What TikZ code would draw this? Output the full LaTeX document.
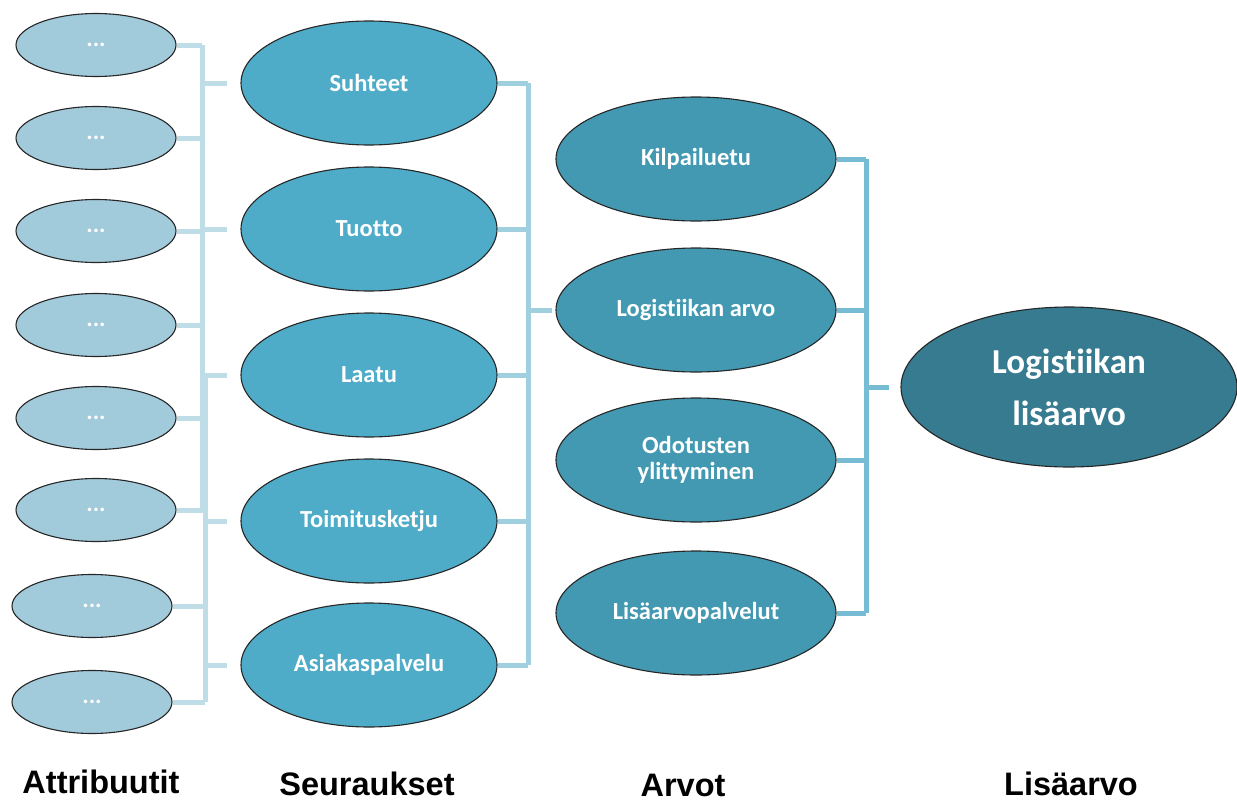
\documentclass[tikz,border=0pt]{standalone}
\usepackage{fontspec}
\setmainfont{Carlito}[Ligatures=NoCommon]
\newfontfamily\arialfont{Liberation Sans}
\usetikzlibrary{shapes.geometric}
\definecolor{attrfill}{HTML}{A1CADB}
\definecolor{consfill}{HTML}{4FACC8}
\definecolor{valfill}{HTML}{4499B2}
\definecolor{finfill}{HTML}{367B8F}
\definecolor{linea}{HTML}{BFDDE7}
\definecolor{lineb}{HTML}{A0CFE0}
\definecolor{linec}{HTML}{76BCD4}
\tikzset{
  ell/.style={ellipse, draw=black!85, line width=1.1pt, inner sep=0pt, text=white, font=\bfseries, align=center},
  attr/.style={ell, fill=attrfill, minimum width=160pt, minimum height=63pt, font=\bfseries\fontsize{24}{28}\selectfont},
  cons/.style={ell, fill=consfill, minimum width=256pt, minimum height=124pt, font=\bfseries\fontsize{24.5}{28}\selectfont},
  val/.style={ell, fill=valfill, minimum width=280pt, minimum height=124pt, font=\bfseries\fontsize{24.5}{26}\selectfont},
  fin/.style={ell, fill=finfill, minimum width=336pt, minimum height=160pt, font=\bfseries\fontsize{35}{52}\selectfont},
  lbl/.style={font=\arialfont\bfseries\fontsize{32.5}{36}\selectfont, text=black},
  conA/.style={draw=linea, line width=5pt},
  conB/.style={draw=lineb, line width=5pt},
  conC/.style={draw=linec, line width=5pt},
}
\begin{document}
\begin{tikzpicture}[x=1pt,y=-1pt]
\useasboundingbox (0,0) rectangle (1237,803);
% attributes
\node[attr] (a1) at (96,45) {...};
\node[attr] (a2) at (96,138) {...};
\node[attr] (a3) at (96,231) {...};
\node[attr] (a4) at (96,325) {...};
\node[attr] (a5) at (96,418) {...};
\node[attr] (a6) at (96,510) {...};
\node[attr] (a7) at (92,606) {...};
\node[attr] (a8) at (92,702) {...};
% consequences
\node[cons] (s1) at (369,83) {Suhteet};
\node[cons] (s2) at (369,229) {Tuotto};
\node[cons] (s3) at (369,375) {Laatu};
\node[cons] (s4) at (369,521) {Toimitusketju};
\node[cons] (s5) at (369,665) {Asiakaspalvelu};
% values
\node[val] (v1) at (696,159) {Kilpailuetu};
\node[val] (v2) at (696,310) {Logistiikan arvo};
\node[val] (v3) at (696,460) {Odotusten\\ylittyminen};
\node[val] (v4) at (696,613) {Lisäarvopalvelut};
% final
\node[fin] (f) at (1069,387) {Logistiikan\\lisäarvo};
% labels
\node[lbl] (l1) at (101,782) {Attribuutit};
\node[lbl] (l2) at (367,784) {Seuraukset};
\node[lbl] (l3) at (683,785) {Arvot};
\node[lbl] (l4) at (1071,784) {Lisäarvo};
% connector coordinates
\coordinate (xa) at (202,0);
\coordinate (xb) at (205,0);
\coordinate (xm) at (528,0);
\coordinate (xr) at (866,0);
% attribute -> consequence connectors
\foreach \i in {1,2,3,4} {\draw[conA] (a\i.east) -- (a\i.east -| xa);}
\foreach \i in {5,6,7,8} {\draw[conA] (a\i.east) -- (a\i.east -| xb);}
\draw[conA] (a1.east -| xa) -- (a6.east -| xa);
\draw[conA] (s3.west -| xb) -- (a8.east -| xb);
\draw[conA, shorten >=13pt] (s1.west -| xa) -- (s1.west);
\draw[conA, shorten >=13pt] (s2.west -| xa) -- (s2.west);
\draw[conA, shorten >=13pt] (s3.west -| xa) -- (s3.west);
\draw[conA, shorten >=13pt] (s4.west -| xb) -- (s4.west);
\draw[conA, shorten >=13pt] (s5.west -| xb) -- (s5.west);
% consequence -> value connectors
\foreach \i in {1,...,5} {\draw[conB] (s\i.east) -- (s\i.east -| xm);}
\draw[conB] (s1.east -| xm) -- (s5.east -| xm);
\draw[conB, shorten >=3pt] (v2.west -| xm) -- (v2.west);
% value -> final connectors
\foreach \i in {1,...,4} {\draw[conC] (v\i.east) -- (v\i.east -| xr);}
\draw[conC] (v1.east -| xr) -- (v4.east -| xr);
\draw[conC, shorten >=11pt] (f.west -| xr) -- (f.west);
\end{tikzpicture}
\end{document}
